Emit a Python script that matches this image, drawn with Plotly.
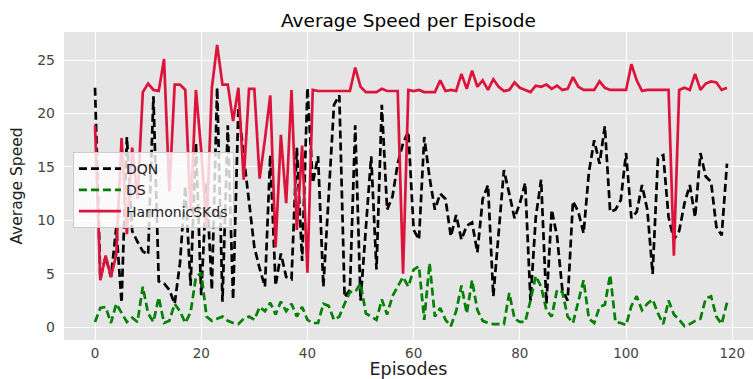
import plotly.graph_objects as go

episodes = list(range(120))

dqn = [22.4, 4.6, 6.6, 4.7, 9.3, 2.3, 17.8, 9.0, 8.0, 7.1,
       6.8, 21.6, 4.3, 4.1, 3.5, 2.2, 6.0, 13.2, 3.9, 17.2,
       3.0, 13.5, 3.5, 22.4, 2.4, 18.9, 2.6, 20.6, 16.0, 11.5,
       7.5, 5.5, 3.8, 16.1, 3.9, 6.9, 4.7, 4.5, 16.8, 6.2,
       22.4, 13.5, 16.0, 3.8, 12.0, 20.8, 21.7, 2.8, 3.5, 18.9,
       2.5, 9.0, 16.0, 5.4, 20.8, 11.0, 12.2, 15.3, 17.2, 18.3,
       9.1, 8.2, 17.8, 14.0, 11.0, 12.5, 12.0, 8.5, 10.5, 8.2,
       9.5, 9.8, 7.0, 12.0, 13.3, 2.9, 9.0, 14.7, 12.5, 10.2,
       11.6, 13.5, 2.5, 10.3, 13.8, 2.2, 11.0, 8.5, 3.5, 2.5,
       11.8, 10.8, 8.8, 14.5, 17.5, 15.3, 18.8, 10.8, 11.0, 11.9,
       16.3, 10.2, 10.8, 13.3, 11.0, 5.0, 15.8, 16.1, 10.3, 8.2,
       9.0, 11.6, 13.3, 10.3, 16.3, 14.1, 13.6, 9.4, 8.6, 15.3]

ds = [0.5, 1.8, 1.9, 0.4, 2.2, 1.3, 0.5, 0.9, 0.5, 3.8,
      1.3, 0.5, 2.8, 0.4, 0.6, 2.2, 1.5, 0.4, 1.4, 4.7,
      5.1, 1.0, 0.6, 0.8, 1.0, 0.6, 0.4, 0.3, 0.8, 1.0,
      0.7, 1.9, 1.5, 2.3, 1.2, 2.4, 1.5, 2.2, 1.0, 1.9,
      0.7, 0.4, 0.4, 2.2, 2.0, 0.7, 1.0, 2.2, 3.3, 3.3,
      4.1, 1.3, 1.0, 0.7, 2.6, 1.2, 2.9, 3.8, 4.7, 3.8,
      5.4, 5.7, 0.7, 6.0, 1.0, 1.8, 0.7, 0.1, 1.5, 3.9,
      1.3, 4.4, 1.6, 0.6, 0.4, 0.3, 0.3, 0.3, 3.2, 0.8,
      0.5, 0.5, 2.5, 4.8, 3.8, 1.6, 1.0, 3.5, 3.3, 1.0,
      0.4, 2.5, 4.4, 0.8, 0.4, 1.9, 2.1, 4.9, 0.5, 0.4,
      0.2, 2.0, 2.9, 1.6, 2.2, 2.6, 1.3, 0.3, 2.5, 1.2,
      0.7, 0.1, 0.3, 0.6, 0.8, 2.7, 2.9, 1.0, 0.3, 2.3]

harmonic = [18.9, 4.4, 6.7, 4.7, 6.8, 17.7, 8.7, 16.8, 12.0, 22.0,
            22.8, 22.2, 22.1, 25.1, 12.7, 22.7, 22.7, 22.2, 10.8, 22.2,
            16.5, 9.3, 22.4, 26.4, 22.7, 22.7, 19.3, 22.4, 13.8, 22.3,
            22.3, 13.9, 17.6, 21.7, 7.5, 18.0, 11.6, 22.2, 9.1, 17.0,
            5.1, 22.2, 22.1, 22.1, 22.1, 22.1, 22.1, 22.1, 22.1, 24.3,
            22.5, 22.0, 22.0, 22.0, 22.3, 22.1, 22.1, 22.1, 5.0, 22.2,
            22.1, 22.2, 22.0, 22.0, 22.0, 23.1, 22.1, 22.2, 22.1, 23.7,
            22.3, 24.0, 22.5, 23.1, 22.2, 23.2, 22.5, 22.1, 22.2, 22.9,
            22.4, 22.2, 22.0, 22.6, 22.5, 22.7, 22.3, 22.6, 22.2, 22.3,
            23.4, 22.5, 22.2, 22.2, 22.2, 23.0, 22.4, 22.2, 22.2, 22.2,
            22.2, 24.6, 23.1, 22.1, 22.2, 22.2, 22.2, 22.2, 22.2, 6.7,
            22.2, 22.4, 22.2, 23.7, 22.2, 22.8, 23.0, 22.9, 22.2, 22.4]

x_ticks = [0, 20, 40, 60, 80, 100, 120]
y_ticks = [0, 5, 10, 15, 20, 25]

FONT = "DejaVu Sans"

fig = go.Figure()
fig.add_trace(go.Scatter(x=episodes, y=dqn, mode="lines", name="DQN",
                         line=dict(color="black", width=2.7, dash="8px,4px")))
fig.add_trace(go.Scatter(x=episodes, y=ds, mode="lines", name="DS",
                         line=dict(color="#008000", width=2.7, dash="8px,4px")))
fig.add_trace(go.Scatter(x=episodes, y=harmonic, mode="lines", name="HarmonicSKds",
                         line=dict(color="#DC143C", width=2.7)))

fig.update_layout(
    width=753, height=379,
    margin=dict(l=64, r=0, t=32, b=39),
    paper_bgcolor="white",
    plot_bgcolor="#E5E5E5",
    font=dict(family=FONT, color="#333333"),
    title=dict(text="Average Speed per Episode", x=0.5, xref="paper",
               xanchor="center", y=0.945, yanchor="middle",
               font=dict(size=18.5, color="black")),
    showlegend=True,
    legend=dict(x=0.013, y=0.61, xanchor="left", yanchor="top",
                bgcolor="rgba(255,255,255,0.8)", bordercolor="#cccccc",
                borderwidth=1, font=dict(size=14, color="#222222"),
                tracegroupgap=0, itemwidth=42),
)
fig.update_xaxes(range=[-5.84, 123.9], tickvals=x_ticks, showgrid=True,
                 gridcolor="white", gridwidth=1, zeroline=False, showline=False,
                 ticks="", ticklabelstandoff=3,
                 tickfont=dict(size=13.5, color="#444444"),
                 title=dict(text="Episodes", font=dict(size=17.5, color="#222222"),
                            standoff=3))
fig.update_yaxes(range=[-1.19, 27.62], tickvals=y_ticks, showgrid=True,
                 gridcolor="white", gridwidth=1, zeroline=False, showline=False,
                 ticks="", ticklabelstandoff=8,
                 tickfont=dict(size=14, color="#444444"),
                 title=dict(text="Average Speed", font=dict(size=15.5, color="#222222"),
                            standoff=10))

fig.write_html("out.html")
